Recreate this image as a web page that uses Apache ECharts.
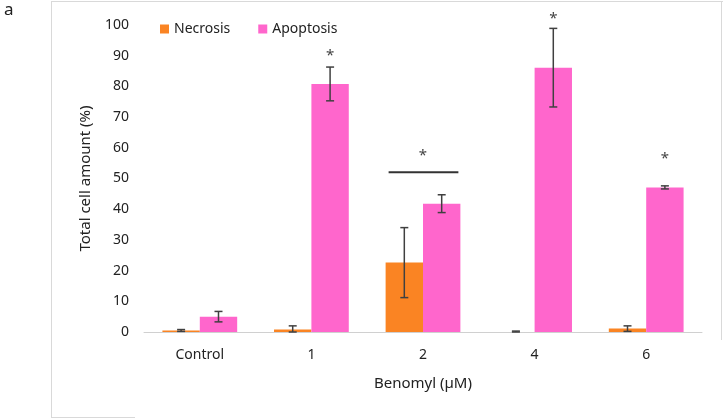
<!DOCTYPE html>
<html><head><meta charset="utf-8">
<script src="https://cdn.jsdelivr.net/npm/echarts@6/dist/echarts.min.js"></script>
<style>html,body{margin:0;padding:0;background:#fff}#c{width:723px;height:419px}</style>
</head><body><div id="c"></div>
<script>
const categories = ['Control', '1', '2', '4', '6'];
const necrosis = [0.5, 0.8, 22.6, 0.0, 1.1];
const necrosisErr = [0.3, 1.2, 11.4, 0.3, 0.9];
const apoptosis = [5.0, 80.8, 41.8, 86.1, 47.1];
const apoptosisErr = [1.7, 5.5, 2.9, 12.8, 0.5];
const starCats = ['1', '2', '4', '6'];
const starY = [90, 57.5, 102, 56.5];
const bracketCat = '2';
const bracketY = 52;
const yTicks = [0, 10, 20, 30, 40, 50, 60, 70, 80, 90, 100];

const FONT = 'Noto Sans';
const ORANGE = '#FA8423';
const PINK = '#FF66CC';
const GAP = 0.33;

function errSeries(vals, errs, side) {
  return {
    type: 'custom', silent: true, z: 5,
    data: categories.map((c, i) => [i, vals[i], errs[i]]),
    renderItem: function (params, api) {
      const i = api.value(0), v = api.value(1), e = api.value(2);
      const band = api.size([1, 0])[0];
      const bw = band * (1 - GAP) / 2;
      const cx = api.coord([i, 0])[0] + side * bw / 2;
      const top = api.coord([i, v + e])[1];
      const bot = api.coord([i, Math.max(v - e, 0)])[1];
      const cap = 4;
      const st = { stroke: '#404040', lineWidth: 1.5 };
      return { type: 'group', children: [
        { type: 'line', shape: { x1: cx, y1: top, x2: cx, y2: bot }, style: st },
        { type: 'line', shape: { x1: cx - cap, y1: top, x2: cx + cap, y2: top }, style: st },
        { type: 'line', shape: { x1: cx - cap, y1: bot, x2: cx + cap, y2: bot }, style: st }
      ]};
    }
  };
}

const chart = echarts.init(document.getElementById('c'));
chart.setOption({
  animation: false,
  backgroundColor: '#fff',
  textStyle: { fontFamily: FONT },
  legend: {
    data: ['Necrosis', 'Apoptosis'], left: 155, top: 17, itemWidth: 9, itemHeight: 9, itemGap: 28,
    icon: 'rect', textStyle: { fontFamily: FONT, fontSize: 14, color: '#222' }
  },
  grid: { left: 144, right: 21, top: 25, bottom: 87 },
  xAxis: {
    type: 'category', data: categories,
    axisLine: { lineStyle: { color: '#d0d0d0', width: 1 } },
    axisTick: { show: false },
    axisLabel: { fontFamily: FONT, fontSize: 14, color: '#222', margin: 16 },
    name: 'Benomyl (µM)', nameLocation: 'middle', nameGap: 44,
    nameTextStyle: { fontFamily: FONT, fontSize: 15, color: '#222' }
  },
  yAxis: {
    type: 'value', min: 0, max: 100, interval: 10,
    splitLine: { show: false },
    axisLine: { show: false }, axisTick: { show: false },
    axisLabel: { fontFamily: FONT, fontSize: 14, color: '#222', margin: 15 },
    name: 'Total cell amount (%)', nameLocation: 'middle', nameGap: 51, nameRotate: 90,
    nameTextStyle: { fontFamily: FONT, fontSize: 15, color: '#222' }
  },
  graphic: [
    { type: 'text', left: 4, top: 2, style: { text: 'a', font: '17px Noto Sans', fill: '#222' } },
    { type: 'line', shape: { x1: 51.5, y1: 1, x2: 51.5, y2: 418 }, style: { stroke: '#d9d9d9', lineWidth: 1 } },
    { type: 'line', shape: { x1: 51, y1: 1.5, x2: 723, y2: 1.5 }, style: { stroke: '#d9d9d9', lineWidth: 1 } },
    { type: 'line', shape: { x1: 721.5, y1: 1, x2: 721.5, y2: 340 }, style: { stroke: '#d9d9d9', lineWidth: 1 } },
    { type: 'line', shape: { x1: 51, y1: 417.5, x2: 135, y2: 417.5 }, style: { stroke: '#d9d9d9', lineWidth: 1 } }
  ],
  series: [
    { name: 'Necrosis', type: 'bar', data: necrosis, barGap: '0%', barCategoryGap: (GAP * 100) + '%', itemStyle: { color: ORANGE } },
    { name: 'Apoptosis', type: 'bar', data: apoptosis, barGap: '0%', barCategoryGap: (GAP * 100) + '%', itemStyle: { color: PINK } },
    errSeries(necrosis, necrosisErr, -1),
    errSeries(apoptosis, apoptosisErr, 1),
    {
      type: 'custom', silent: true, z: 6,
      data: starCats.map((c, k) => [categories.indexOf(c), starY[k]]),
      renderItem: function (params, api) {
        const i = api.value(0), y = api.value(1);
        const band = api.size([1, 0])[0];
        const bw = band * (1 - GAP) / 2;
        let cx = api.coord([i, 0])[0] + bw / 2;
        if (categories[i] === bracketCat) cx = api.coord([i, 0])[0];
        const p = api.coord([i, y]);
        return { type: 'text', style: { text: '*', x: cx, y: p[1], font: '15px Noto Sans', fill: '#444', align: 'center', verticalAlign: 'middle' } };
      }
    },
    {
      type: 'custom', silent: true, z: 6,
      data: [[categories.indexOf(bracketCat), bracketY]],
      renderItem: function (params, api) {
        const i = api.value(0), y = api.value(1);
        const band = api.size([1, 0])[0];
        const bw = band * (1 - GAP) / 2;
        const c = api.coord([i, y]);
        return { type: 'line', shape: { x1: c[0] - bw + 3, y1: c[1], x2: c[0] + bw - 2, y2: c[1] }, style: { stroke: '#333', lineWidth: 2 } };
      }
    }
  ]
});
</script></body></html>
